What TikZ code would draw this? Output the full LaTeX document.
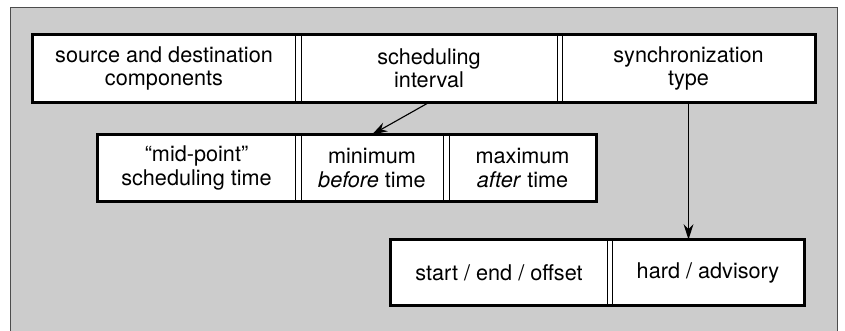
\documentclass[tikz,border=0pt]{standalone}
\usepackage{fontspec}
\setmainfont{TeX Gyre Heros}
\usetikzlibrary{arrows.meta,backgrounds}

\definecolor{panelgray}{gray}{0.80}

\tikzset{
  cell/.style={draw, fill=white, line width=0.6pt, inner sep=0pt, align=center,
    minimum width=#1, font=\fontsize{15.4}{16.6}\selectfont},
  toprow/.style={cell=#1, minimum height=1.675cm},
  midrow/.style={cell=#1, minimum height=1.65cm},
  lowrow/.style={cell=#1, minimum height=1.625cm},
  rowframe/.style={line width=1.8pt},
  link/.style={line width=0.8pt, -{Stealth[length=11pt,width=7pt]}}
}

\begin{document}
\begin{tikzpicture}[x=0.025cm, y=-0.025cm]
            \useasboundingbox (0,0) rectangle (845,330);
            \clip (0,0) rectangle (845,330);
            \begin{scope}[on background layer]
              \filldraw[fill=panelgray, draw=black!70, line width=0.6pt] (10,7) rectangle (837,345);
            \end{scope}

            % Nodes
            \node[toprow=6.55cm] (srcdst) at (164,68.5) {source and destination\\components};
            \node[toprow=6.4cm] (sched) at (429,68.5) {scheduling\\interval};
            \node[toprow=6.325cm] (sync) at (688.5,68.5) {synchronization\\type};

            \node[midrow=4.925cm] (midpt) at (196.5,168) {“mid-point”\\scheduling time};
            \node[midrow=3.55cm] (minbefore) at (372,168) {minimum\\\textit{before} time};
            \node[midrow=3.675cm] (maxafter) at (522.5,168) {maximum\\\textit{after} time};

            \node[lowrow=5.4cm] (startend) at (499,272.5) {start / end / offset};
            \node[lowrow=4.8cm] (hardadv) at (708,272.5) {hard / advisory};

            % Row frames
            \begin{scope}[on background layer]
              \fill[white] (srcdst.north west) rectangle (sync.south east);
              \fill[white] (midpt.north west) rectangle (maxafter.south east);
              \fill[white] (startend.north west) rectangle (hardadv.south east);
            \end{scope}
            \draw[rowframe] (srcdst.north west) rectangle (sync.south east);
            \draw[rowframe] (midpt.north west) rectangle (maxafter.south east);
            \draw[rowframe] (startend.north west) rectangle (hardadv.south east);

            % Connections
            \draw[link] (sched.south) -- (minbefore.north);
            \draw[link] (sync.south) -- (sync.south |- hardadv.north);
        \end{tikzpicture}
\end{document}
